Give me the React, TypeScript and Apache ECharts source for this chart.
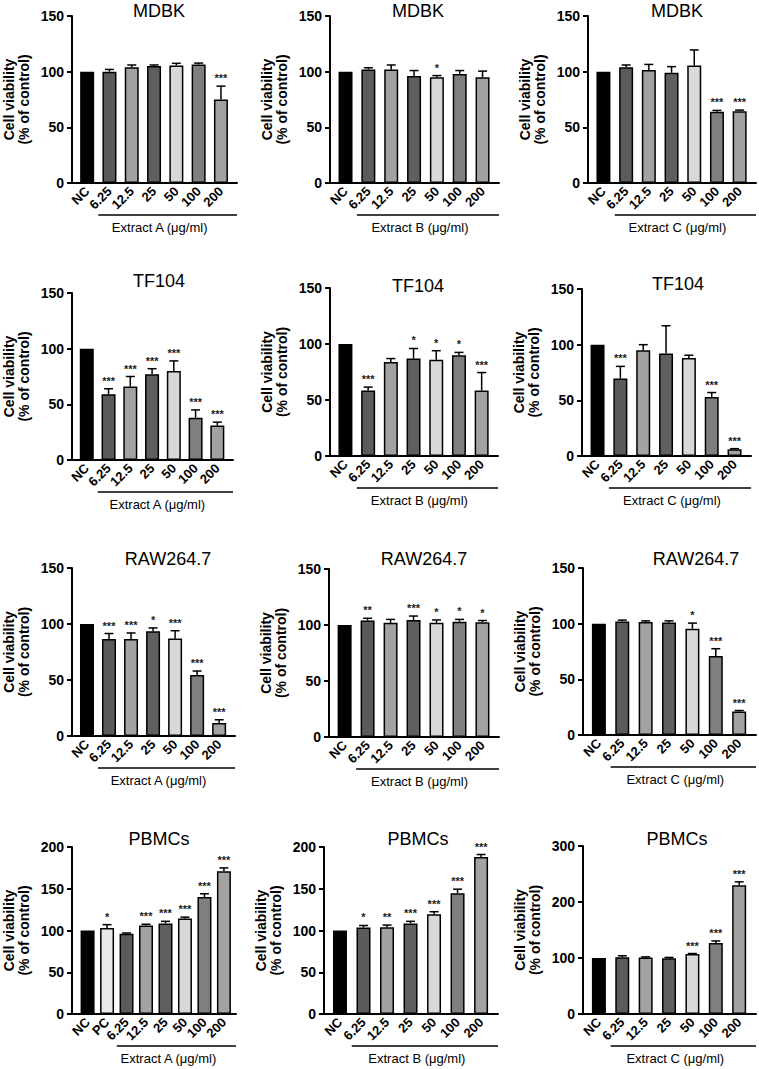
import React, { useEffect, useRef } from "react";
import * as echarts from "echarts";

// ---------- data ----------
const cellLines = ["MDBK", "TF104", "RAW264.7", "PBMCs"];
const extractNames = ["Extract A (μg/ml)", "Extract B (μg/ml)", "Extract C (μg/ml)"];
const doseLabels = ["NC", "6.25", "12.5", "25", "50", "100", "200"];
const doseLabelsPC = ["NC", "PC", "6.25", "12.5", "25", "50", "100", "200"];
const doseColors = ["#000000", "#5b5b5b", "#a2a2a2", "#5f5f5f", "#d8d8d8", "#7f7f7f", "#a2a2a2"];
const doseColorsPC = ["#000000", "#e8e8e8", "#5b5b5b", "#a2a2a2", "#5f5f5f", "#d8d8d8", "#7f7f7f", "#a2a2a2"];

const mdbkA = [100, 100, 104, 105, 105.5, 106.5, 75];
const mdbkAErr = [0, 2, 2, 1, 2, 1.2, 12];
const mdbkASig = ["", "", "", "", "", "", "***"];
const mdbkB = [100, 102, 102, 96, 95, 98, 95];
const mdbkBErr = [0, 1.5, 4, 5, 1.5, 3, 5.5];
const mdbkBSig = ["", "", "", "", "*", "", ""];
const mdbkC = [100, 104, 101.5, 99, 105.5, 64, 64.5];
const mdbkCErr = [0, 2, 5, 5.5, 14, 1.2, 1];
const mdbkCSig = ["", "", "", "", "", "***", "***"];

const tf104A = [100, 59, 66, 77, 80, 38, 31];
const tf104AErr = [0, 5, 9, 5, 9, 7, 3];
const tf104ASig = ["", "***", "***", "***", "***", "***", "***"];
const tf104B = [100, 58.5, 84, 87, 86, 90, 58.5];
const tf104BErr = [0, 3, 3, 9, 8, 2.5, 16];
const tf104BSig = ["", "***", "", "*", "*", "*", "***"];
const tf104C = [100, 69.5, 95, 92, 88, 53, 6];
const tf104CErr = [0, 11, 5, 25, 2.5, 4, 0.6];
const tf104CSig = ["", "***", "", "", "", "***", "***"];

const rawA = [100, 86.5, 86.5, 93.5, 87, 54.5, 11.5];
const rawAErr = [0, 5, 5.5, 3, 7, 3.5, 3];
const rawASig = ["", "***", "***", "*", "***", "***", "***"];
const rawB = [100, 104, 102, 104.5, 102, 103, 102.5];
const rawBErr = [0, 2, 3, 3.5, 2.5, 2, 1.5];
const rawBSig = ["", "**", "", "***", "*", "*", "*"];
const rawC = [100, 102, 101.5, 101, 95.5, 71, 21];
const rawCErr = [0, 1.2, 1, 1.5, 5, 6.5, 1];
const rawCSig = ["", "", "", "", "*", "***", "***"];

const pbmcA = [100, 103, 96, 106, 108.5, 114.5, 140, 171];
const pbmcAErr = [0, 4, 1, 1.5, 2.5, 1.5, 4, 4];
const pbmcASig = ["", "*", "", "***", "***", "***", "***", "***"];
const pbmcB = [100, 103.5, 104, 108.5, 119.5, 144.5, 188];
const pbmcBErr = [0, 2.5, 2.5, 2.5, 3, 5, 3];
const pbmcBSig = ["", "*", "**", "***", "***", "***", "***"];
const pbmcC = [100, 101.5, 101, 99.5, 107, 127, 230];
const pbmcCErr = [0, 2.5, 1, 1.5, 1, 3.5, 6];
const pbmcCSig = ["", "", "", "", "***", "***", "***"];

const yMaxes = [150, 150, 150, 150, 150, 150, 150, 150, 150, 200, 200, 300];
const ySteps = [50, 50, 50, 50, 50, 50, 50, 50, 50, 50, 50, 100];

type Panel = {
  title: string;
  ext: number;
  labels: string[];
  colors: string[];
  values: number[];
  errors: number[];
  sig: string[];
  firstExtract: number;
};

const panels: Panel[] = [
  { title: cellLines[0], ext: 0, labels: doseLabels, colors: doseColors, values: mdbkA, errors: mdbkAErr, sig: mdbkASig, firstExtract: 1 },
  { title: cellLines[0], ext: 1, labels: doseLabels, colors: doseColors, values: mdbkB, errors: mdbkBErr, sig: mdbkBSig, firstExtract: 1 },
  { title: cellLines[0], ext: 2, labels: doseLabels, colors: doseColors, values: mdbkC, errors: mdbkCErr, sig: mdbkCSig, firstExtract: 1 },
  { title: cellLines[1], ext: 0, labels: doseLabels, colors: doseColors, values: tf104A, errors: tf104AErr, sig: tf104ASig, firstExtract: 1 },
  { title: cellLines[1], ext: 1, labels: doseLabels, colors: doseColors, values: tf104B, errors: tf104BErr, sig: tf104BSig, firstExtract: 1 },
  { title: cellLines[1], ext: 2, labels: doseLabels, colors: doseColors, values: tf104C, errors: tf104CErr, sig: tf104CSig, firstExtract: 1 },
  { title: cellLines[2], ext: 0, labels: doseLabels, colors: doseColors, values: rawA, errors: rawAErr, sig: rawASig, firstExtract: 1 },
  { title: cellLines[2], ext: 1, labels: doseLabels, colors: doseColors, values: rawB, errors: rawBErr, sig: rawBSig, firstExtract: 1 },
  { title: cellLines[2], ext: 2, labels: doseLabels, colors: doseColors, values: rawC, errors: rawCErr, sig: rawCSig, firstExtract: 1 },
  { title: cellLines[3], ext: 0, labels: doseLabelsPC, colors: doseColorsPC, values: pbmcA, errors: pbmcAErr, sig: pbmcASig, firstExtract: 2 },
  { title: cellLines[3], ext: 1, labels: doseLabels, colors: doseColors, values: pbmcB, errors: pbmcBErr, sig: pbmcBSig, firstExtract: 1 },
  { title: cellLines[3], ext: 2, labels: doseLabels, colors: doseColors, values: pbmcC, errors: pbmcCErr, sig: pbmcCSig, firstExtract: 1 },
];

// ---------- layout: [left, top, right, bottom, titleX, titleY] ----------
const layouts = [
  [71, 16, 237, 183, 159, 11],
  [330, 16, 499, 183, 418, 11],
  [588, 16, 756, 183, 677, 11],
  [71, 293, 233, 460, 159, 281],
  [330, 288, 498, 456, 418, 286],
  [582, 289, 751, 456, 678, 284],
  [71, 568, 235, 736, 168, 559],
  [329, 569, 499, 737, 424, 559],
  [583, 568, 756, 735, 696, 559],
  [71, 847, 236, 1014, 159, 839],
  [324, 847, 498, 1014, 418, 839],
  [583, 846, 756, 1014, 677, 839],
];

const FONT = "'Liberation Sans', Arial, Helvetica, sans-serif";

export default function App() {
  const ref = useRef<HTMLDivElement>(null);

  useEffect(() => {
    if (!ref.current) return;
    const chart = echarts.init(ref.current, null, { renderer: "svg" });
    const grid: any[] = [];
    const xAxis: any[] = [];
    const yAxis: any[] = [];
    const series: any[] = [];

    panels.forEach((p, k) => {
      const [l, t, r, b] = layouts[k];
      const n = p.labels.length;
      const padL = n === 8 ? 0.8 : 0.68;
      const padR = n === 8 ? 0.62 : 0.72;
      grid.push({ left: l, top: t, width: r - l, height: b - t, containLabel: false });
      xAxis.push({
        gridIndex: k,
        type: "value",
        min: -padL,
        max: n - 1 + padR,
        axisLine: { show: true, onZero: false, lineStyle: { color: "#000", width: 2 } },
        axisTick: { show: false },
        splitLine: { show: false },
        axisLabel: {
          customValues: p.labels.map((_, i) => i),
          formatter: (v: number) => p.labels[Math.round(v)] ?? "",
          rotate: 45,
          margin: 6,
          color: "#000",
          fontFamily: FONT,
          fontWeight: "bold",
          fontSize: 13,
        },
      });
      yAxis.push({
        gridIndex: k,
        type: "value",
        min: 0,
        max: yMaxes[k],
        interval: ySteps[k],
        axisLine: { show: true, onZero: false, lineStyle: { color: "#000", width: 2 } },
        axisTick: { show: true, length: 5, lineStyle: { color: "#000", width: 2 } },
        splitLine: { show: false },
        axisLabel: { margin: 8, color: "#000", fontFamily: FONT, fontWeight: "bold", fontSize: 14 },
        name: "Cell viability\n(% of control)",
        nameLocation: "middle",
        nameGap: 41,
        nameTextStyle: { color: "#000", fontFamily: FONT, fontWeight: "bold", fontSize: 14, lineHeight: 15 },
      });
      series.push({
        type: "bar",
        xAxisIndex: k,
        yAxisIndex: k,
        barWidth: 14,
        itemStyle: { borderColor: "#000", borderWidth: 1.5 },
        data: p.values.map((v, i) => ({ value: [i, v], itemStyle: { color: p.colors[i] } })),
        z: 2,
      });
      const sigs = p.sig;
      series.push({
        type: "custom",
        xAxisIndex: k,
        yAxisIndex: k,
        z: 3,
        itemStyle: { color: "#1a1a1a" },
        data: p.values.map((v, i) => [i, v, p.errors[i]]),
        renderItem: (params: any, api: any) => {
          const x = api.value(0);
          const v = api.value(1);
          const e = api.value(2);
          const base = api.coord([x, v]);
          const top = api.coord([x, v + e]);
          const children: any[] = [];
          if (e > 0) {
            children.push({
              type: "line",
              shape: { x1: base[0], y1: base[1], x2: top[0], y2: top[1] },
              style: { stroke: "#000", lineWidth: 1.5 },
            });
            children.push({
              type: "line",
              shape: { x1: top[0] - 4.5, y1: top[1], x2: top[0] + 4.5, y2: top[1] },
              style: { stroke: "#000", lineWidth: 1.5 },
            });
          }
          const s = sigs[params.dataIndex];
          if (s) {
            children.push({
              type: "text",
              style: {
                text: s,
                x: top[0],
                y: top[1] - 8,
                align: "center",
                verticalAlign: "middle",
                fontSize: 11,
                fontWeight: "bold",
                fontFamily: FONT,
                fill: "#1a1a1a",
              },
            });
          }
          return { type: "group", children };
        },
      });
    });

    chart.setOption({
      animation: false,
      backgroundColor: "#fff",
      grid,
      xAxis,
      yAxis,
      series,
    });

    const graphic: any[] = [];
    panels.forEach((p, k) => {
      const [l, t, r, b, tx, ty] = layouts[k];
      graphic.push({
        type: "text",
        x: tx,
        y: ty,
        style: { text: p.title, align: "center", verticalAlign: "middle", fontSize: 18, fontFamily: FONT, fill: "#000" },
      });
      const startX = chart.convertToPixel({ xAxisIndex: k } as any, p.firstExtract - 0.5) as unknown as number;
      const lineY = b + 32;
      graphic.push({
        type: "line",
        shape: { x1: startX, y1: lineY, x2: r, y2: lineY },
        style: { stroke: "#000", lineWidth: 1.5 },
      });
      graphic.push({
        type: "text",
        x: (startX + r) / 2 - 8,
        y: lineY + 12,
        style: { text: extractNames[p.ext], align: "center", verticalAlign: "middle", fontSize: 13, fontFamily: FONT, fill: "#000" },
      });
    });
    chart.setOption({ graphic });

    return () => chart.dispose();
  }, []);

  return (
    <div
      ref={ref}
      style={{ position: "fixed", left: 0, top: 0, width: 759, height: 1069, background: "#fff" }}
    />
  );
}
